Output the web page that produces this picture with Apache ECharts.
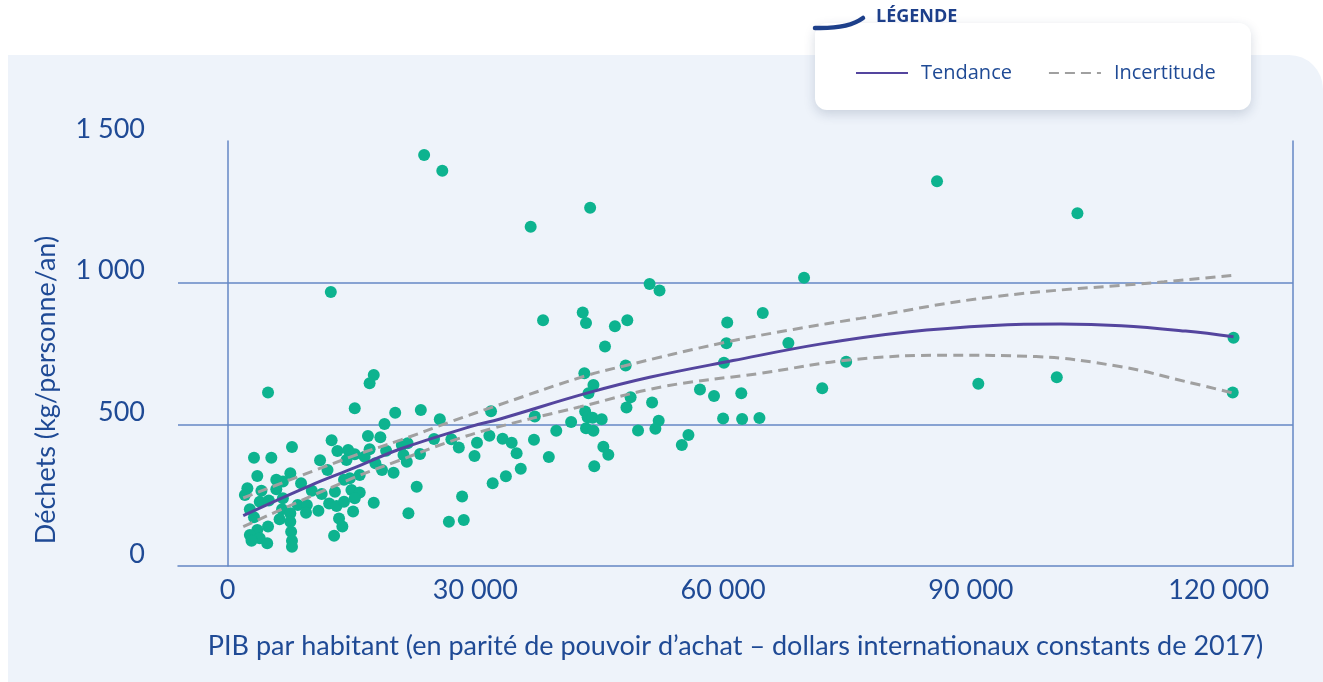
<!DOCTYPE html>
<html><head><meta charset="utf-8">
<script src="https://cdn.jsdelivr.net/npm/echarts@6.0.0/dist/echarts.min.js"></script>
<style>html,body{margin:0;padding:0;background:#fff;overflow:hidden;} #chart{width:1323px;height:682px;}</style>
</head><body><div id="chart"></div>
<script>
// ---- data ----
const gdp = [23800,26000,36700,43900,85900,102900,12500,69800,51100,52300,38200,43000,43400,46900,48400,45700,60500,60400,64800,67900,
  48200,43200,44300,43700,48800,48300,60100,74900,57200,58900,62200,72000,90900,100400,121800,121700,51400,60000,62300,64400,
  52200,51800,55800,55000,4900,15400,17700,17200,20300,23400,19000,25700,17000,18500,15400,16600,17200,19200,17900,18700,
  20100,21100,21800,21300,21700,23300,25000,27100,28000,30200,29900,31900,31700,33300,16000,14800,15000,16000,15400,15200,
  17700,22900,21900,28400,26800,28600,32100,37200,43300,43600,44200,45300,41600,39800,43400,44300,49700,34400,37100,35000,
  38900,45500,46100,44400,35500,33700,
  3200,5300,7800,12600,13300,14600,3600,11200,12100,7600,5900,6700,8900,2400,2100,4100,5900,10200,11400,13000,
  3900,5000,6700,8500,9600,9500,11000,12300,13200,14100,2700,3200,6600,6300,7600,7600,13500,13900,3600,4900,
  2700,3900,2900,4800,7700,7800,7800,12900,14400,14100];
const waste = [1451,1395,1197,1264,1358,1245,967,1017,995,972,867,895,858,846,867,775,859,786,893,787,
  708,680,639,610,596,559,717,721,623,600,610,627,643,666,806,612,577,521,519,522,
  513,484,462,427,612,557,674,645,541,551,501,518,459,454,394,386,412,407,363,339,
  329,427,433,392,368,395,448,447,418,435,388,546,460,449,321,310,268,259,239,192,
  223,280,186,245,156,162,292,528,545,525,523,518,508,477,486,477,478,435,446,398,
  385,421,393,352,343,317,
  382,382,420,444,406,409,318,373,339,327,304,298,292,274,251,266,271,266,254,262,
  227,231,239,215,215,188,195,221,212,227,200,172,200,165,186,156,168,139,127,139,
  109,98,89,80,121,89,68,107,374,304];

const trendGdp   = [1900,10000,15400,20900,29400,33000,43500,51100,61200,71900,82300,92700,100900,108200,116000,121800];
const trendWaste = [178,284,347,413,492,519,610,666,725,784,826,849,854,848,829,809];
const upperGdp   = [1900,15000,21000,27000,33000,43000,48000,60000,68500,76600,92700,113400,121800];
const upperWaste = [240,386,445,509,570,668,706,788,835,874,950,1003,1026];
const lowerGdp   = [1900,15000,20900,26900,32000,42700,52900,64500,75500,87500,97900,108200,116000,121800];
const lowerWaste = [139,308,374,439,485,562,634,680,728,744,739,703,651,610];

const xTicks = [0, 30000, 60000, 90000, 120000];
const yTicks = [0, 500, 1000, 1500];
const legendNames = ['Tendance', 'Incertitude'];
const legendTitle = 'LÉGENDE';
const xTitle = 'PIB par habitant (en parité de pouvoir d’achat – dollars internationaux constants de 2017)';
const yTitle = 'Déchets (kg/personne/an)';

// ---- styling ----
const BLUE_TEXT = '#1f4a95';
const AXIS_COL = '#6487c4';
const DOT = '#0db38f';
const TREND = '#54459e';
const CI = '#a0a0a0';

function fmt(v){ return String(v).replace(/\B(?=(\d{3})+(?!\d))/g, '\u00a0'); }
function zip(a, b){ return a.map((v, i) => [v, b[i]]); }

const chart = echarts.init(document.getElementById('chart'), null, {renderer: 'canvas'});
chart.setOption({
  animation: false,
  backgroundColor: '#ffffff',
  grid: {left: 178, right: 30, top: 141, bottom: 116, containLabel: false},
  xAxis: {
    type: 'value', min: -6000, max: 129000, interval: 6000,
    axisLine: {show: true, lineStyle: {color: AXIS_COL, width: 1.5}},
    axisTick: {show: false},
    splitLine: {show: false},
    axisLabel: {
      color: BLUE_TEXT, fontFamily: 'Lato', fontSize: 27, margin: 11,
      showMinLabel: false, showMaxLabel: false,
      formatter: v => xTicks.includes(v) ? fmt(v) : ''
    },
    name: xTitle, nameLocation: 'middle', nameGap: 67,
    nameTextStyle: {color: BLUE_TEXT, fontFamily: 'Lato', fontSize: 27}
  },
  yAxis: [{
    type: 'value', min: 0, max: 1500, interval: 500,
    axisLine: {show: true, lineStyle: {color: AXIS_COL, width: 1.5}},
    axisTick: {show: false},
    splitLine: {show: true, lineStyle: {color: ['rgba(0,0,0,0)', AXIS_COL, AXIS_COL, 'rgba(0,0,0,0)'], width: 1.5}},
    axisLabel: {
      color: BLUE_TEXT, fontFamily: 'Lato', fontSize: 27, margin: 33,
      verticalAlign: 'bottom', lineHeight: 24,
      formatter: v => yTicks.includes(v) ? fmt(v) : ''
    }
  }, {
    type: 'value', min: 0, max: 1500, interval: 500, position: 'right',
    axisLine: {show: true, lineStyle: {color: AXIS_COL, width: 1.5}},
    axisTick: {show: false}, axisLabel: {show: false}, splitLine: {show: false}
  }],
  legend: {
    data: legendNames, left: 850, top: 58, orient: 'horizontal',
    itemWidth: 52, itemHeight: 14, itemGap: 36,
    itemStyle: {opacity: 0},
    textStyle: {color: BLUE_TEXT, fontFamily: 'Open Sans', fontSize: 20, padding: [0, 0, 0, 8]}
  },
  graphic: {elements: [
    {type: 'rect', z: -100, shape: {x: 8, y: 55, width: 1315, height: 640, r: [0, 34, 0, 0]},
     style: {fill: '#eef3fa'}, silent: true},
    {type: 'rect', z: 1, shape: {x: 815, y: 23, width: 436, height: 87, r: 12},
     style: {fill: '#ffffff', shadowBlur: 12, shadowOffsetY: 4, shadowColor: 'rgba(30,50,90,0.18)'}, silent: true},
    {type: 'bezierCurve', z: 2, shape: {x1: 815, y1: 28, cpx1: 848, cpy1: 29, x2: 863, y2: 18},
     style: {fill: null, stroke: '#1d3f8a', lineWidth: 4.5, lineCap: 'round'}, silent: true},
    {type: 'text', z: 2, x: 876, y: 17,
     style: {text: legendTitle, fill: '#1d3f8a', font: 'bold 18px "Open Sans"', verticalAlign: 'middle', align: 'left'}},
    {type: 'text', z: 2, x: 46, y: 390, rotation: Math.PI / 2,
     style: {text: yTitle, fill: BLUE_TEXT, font: '27px Lato', align: 'center', verticalAlign: 'middle'}}
  ]},
  series: [
    {type: 'scatter', name: 'Pays', data: zip(gdp, waste), symbolSize: 12,
     itemStyle: {color: DOT, opacity: 1}, z: 2, silent: true},
    {type: 'line', name: 'Incertitude', data: zip(upperGdp, upperWaste), symbol: 'none', smooth: 0.4,
     lineStyle: {color: CI, width: 3, type: [10, 6]}, itemStyle: {color: CI}, z: 3},
    {type: 'line', name: 'Incertitude', data: zip(lowerGdp, lowerWaste), symbol: 'none', smooth: 0.4,
     lineStyle: {color: CI, width: 3, type: [10, 6]}, itemStyle: {color: CI}, z: 3},
    {type: 'line', name: 'Tendance', data: zip(trendGdp, trendWaste), symbol: 'none', smooth: 0.4,
     lineStyle: {color: TREND, width: 3}, itemStyle: {color: TREND}, z: 4}
  ]
});
</script></body></html>
